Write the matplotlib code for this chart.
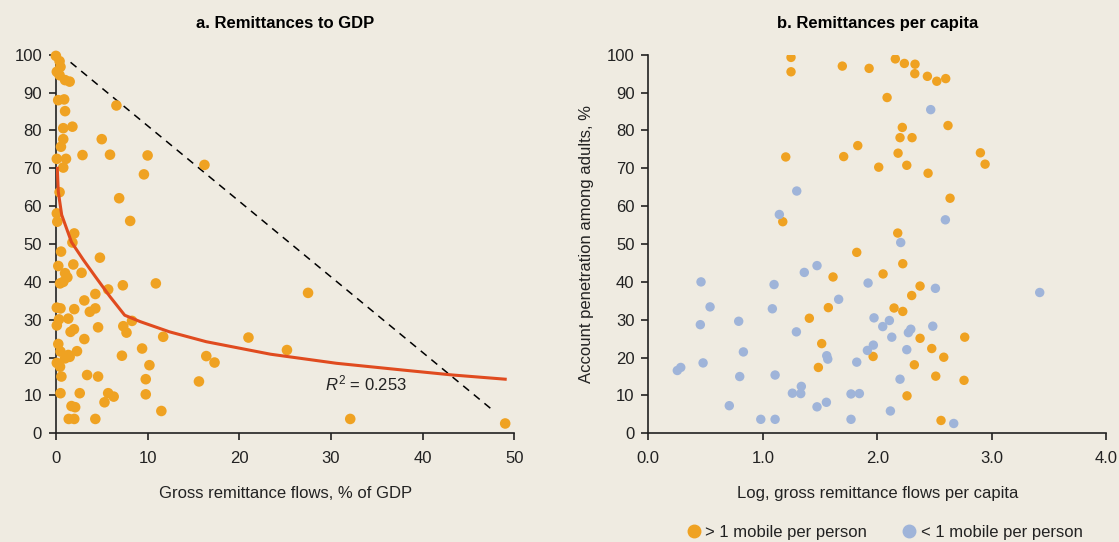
import matplotlib
matplotlib.use("Agg")
import matplotlib.pyplot as plt
from matplotlib.lines import Line2D

plt.rcParams['font.family'] = ['Liberation Sans', 'DejaVu Sans']
plt.rcParams['mathtext.fontset'] = 'custom'
plt.rcParams['mathtext.it'] = 'Liberation Sans:italic'
plt.rcParams['mathtext.rm'] = 'Liberation Sans'

# panel a: remittances, % of GDP vs account penetration
gdp_x = [0.0, 0.4, 0.5, 0.1, 0.4, 1.0, 1.5, 0.25, 0.9, 1.0, 0.8, 1.8, 0.55, 0.8,
         0.1, 1.1, 0.8, 2.9, 5.0, 5.9, 6.6, 10.0, 9.6, 16.2, 0.4, 6.9, 0.1, 0.15,
         8.1, 2.0, 1.8,
         0.56, 4.8, 0.26, 1.9, 1.0, 1.25, 2.8, 0.45, 0.8, 7.3, 10.9, 5.7, 4.3,
         3.1, 0.1, 0.5, 2.0, 3.7, 4.3, 0.34, 1.35, 0.1, 1.6, 1.97, 4.6, 3.1,
         7.35, 7.7, 8.3, 11.7, 0.26, 0.5, 2.3, 1.5, 1.0, 7.2, 9.4, 0.1, 0.45,
         0.6, 3.4, 4.6, 10.2, 9.8, 0.5, 2.6, 5.7, 6.3, 5.3, 9.8, 11.5, 1.7, 2.1,
         1.4, 2.0, 4.3, 15.6, 16.4, 17.3, 21.0, 27.5, 25.2, 32.1, 49.0, 1.35]
gdp_y = [99.7, 98.3, 96.8, 95.5, 94.6, 93.3, 92.9, 88.0, 88.2, 85.1, 80.6, 81.0,
         75.7, 77.7, 72.5, 72.5, 70.2, 73.5, 77.7, 73.6, 86.6, 73.4, 68.4, 70.9,
         63.7, 62.1, 58.1, 55.9, 56.1, 52.8, 50.4,
         48.0, 46.4, 44.2, 44.6, 42.3, 41.2, 42.4, 39.6, 40.0, 39.1, 39.6, 38.0,
         36.8, 35.1, 33.2, 33.0, 32.8, 32.1, 33.0, 30.1, 30.3, 28.5, 26.8, 27.5,
         28.0, 24.9, 28.3, 26.6, 29.7, 25.5, 23.6, 21.6, 21.7, 20.2, 19.8, 20.5,
         22.4, 18.6, 17.6, 15.0, 15.4, 15.0, 18.0, 14.3, 10.6, 10.6, 10.6, 9.7,
         8.2, 10.3, 5.9, 7.2, 6.9, 3.8, 3.8, 3.8, 13.7, 20.4, 18.7, 25.3, 37.1,
         22.0, 3.8, 2.6, 20.7]

# fitted curve and diagonal reference line
fit_x = [0.15, 0.26, 0.63, 1.7, 3.0, 4.3, 5.9, 7.5, 9.2, 12.4, 16.4, 23.4,
         30.6, 37.9, 43.3, 49.0]
fit_y = [70.0, 63.8, 57.7, 50.5, 45.8, 41.4, 36.1, 31.2, 29.5, 26.8, 24.2,
         20.9, 18.5, 16.7, 15.4, 14.3]
diag_x = [1.6, 47.7]
diag_y = [98.0, 6.0]
r2_text = '$R^2$ = 0.253'

# panel b: log remittances per capita, split by mobile subscriptions
hi_x = [1.246, 1.246, 1.20, 1.174, 1.694, 1.928, 2.157, 2.236, 2.329, 2.327,
        2.437, 2.519, 2.597, 2.085, 2.617, 2.218, 2.198, 2.303, 1.829, 1.706,
        2.181, 2.900, 2.941, 2.012, 2.257, 2.443, 2.635, 2.178, 1.820, 2.222,
        1.613, 2.050, 2.373, 2.300, 1.572, 2.146, 2.222, 1.406, 2.373, 2.763,
        1.514, 2.475, 1.963, 2.580, 1.485, 2.323, 2.510, 2.757, 2.259, 2.556]
hi_y = [99.3, 95.5, 73.0, 55.9, 97.0, 96.4, 98.9, 97.7, 97.5, 95.0, 94.3,
        93.0, 93.7, 88.7, 81.3, 80.8, 78.1, 78.1, 76.0, 73.1, 74.0, 74.1, 71.1,
        70.3, 70.8, 68.7, 62.1, 52.9, 47.8, 44.8, 41.3, 42.1, 38.9, 36.4, 33.2,
        33.1, 32.2, 30.4, 25.1, 25.4, 23.7, 22.4, 20.3, 20.1, 17.4, 18.1, 15.1,
        14.0, 9.9, 3.4]
lo_x = [1.296, 1.144, 2.466, 2.594, 2.204, 1.919, 2.507, 3.418, 1.662, 1.971,
        2.105, 2.047, 2.484, 2.292, 2.271, 2.126, 1.965, 1.913, 2.257, 1.820,
        2.198, 1.770, 1.843, 2.114, 1.770, 2.667, 0.460, 1.098, 1.362, 1.473,
        0.539, 1.083, 0.454, 0.789, 1.293, 0.830, 1.558, 1.567, 0.253, 0.283,
        0.478, 0.798, 1.107, 1.336, 1.258, 1.331, 1.555, 1.473, 0.707, 0.982,
        1.107]
lo_y = [64.0, 57.8, 85.5, 56.4, 50.4, 39.7, 38.3, 37.2, 35.4, 30.5, 29.8,
        28.2, 28.3, 27.5, 26.6, 25.4, 23.3, 21.9, 22.1, 18.8, 14.3, 10.4, 10.5,
        5.9, 3.7, 2.6, 40.0, 39.3, 42.5, 44.3, 33.4, 32.9, 28.7, 29.6, 26.8,
        21.5, 20.5, 19.6, 16.6, 17.4, 18.6, 15.0, 15.4, 12.4, 10.6, 10.5, 8.2,
        7.0, 7.3, 3.7, 3.7]

x_ticks_a = [0, 10, 20, 30, 40, 50]
x_ticks_b = [0.0, 1.0, 2.0, 3.0, 4.0]
y_ticks = [0, 10, 20, 30, 40, 50, 60, 70, 80, 90, 100]

BG = '#efebe1'
ORANGE = '#efa222'
BLUE = '#9fb4d9'
RED = '#e04b1f'
INK = '#222222'
FS = 12


def style_axes(ax):
    ax.set_facecolor(BG)
    for side in ('top', 'right'):
        ax.spines[side].set_visible(False)
    for side in ('left', 'bottom'):
        ax.spines[side].set_linewidth(1.2)
        ax.spines[side].set_color(INK)
    ax.tick_params(axis='both', direction='out', length=5, width=1.2,
                   colors=INK, labelsize=FS)
    ax.tick_params(axis='x', pad=8)
    ax.tick_params(axis='y', pad=5)
    ax.set_ylim(0, 100)
    ax.set_yticks(y_ticks)


fig = plt.figure(figsize=(11.19, 5.42), dpi=100, facecolor=BG)

ax_a = fig.add_axes([0.04996, 0.2005, 0.4097, 0.6985])
style_axes(ax_a)
ax_a.set_xlim(0, 50)
ax_a.set_xticks(x_ticks_a)
ax_a.plot(diag_x, diag_y, color='black', lw=1.1, ls=(0, (5, 4)), zorder=2)
ax_a.plot(fit_x, fit_y, color=RED, lw=2.2, zorder=4)
ax_a.scatter(gdp_x, gdp_y, s=58, color=ORANGE, edgecolors='none',
             clip_on=False, zorder=3)
ax_a.text(29.4, 13.2, r2_text, fontsize=FS, va='center', ha='left',
          color=INK)
ax_a.set_title('a. Remittances to GDP', fontsize=FS, fontweight='bold',
               pad=19)
ax_a.set_xlabel('Gross remittance flows, % of GDP', fontsize=FS,
                labelpad=14, color=INK)

ax_b = fig.add_axes([0.5794, 0.2005, 0.4093, 0.6985])
style_axes(ax_b)
ax_b.set_xlim(0, 4)
ax_b.set_xticks(x_ticks_b)
ax_b.set_xticklabels([f'{v:.1f}' for v in x_ticks_b])
ax_b.scatter(hi_x, hi_y, s=46, color=ORANGE, edgecolors='none', zorder=3)
ax_b.scatter(lo_x, lo_y, s=46, color=BLUE, edgecolors='none', zorder=3)
ax_b.set_title('b. Remittances per capita', fontsize=FS, fontweight='bold',
               pad=19)
ax_b.set_xlabel('Log, gross remittance flows per capita', fontsize=FS,
                labelpad=14, color=INK)
ax_b.set_ylabel('Account penetration among adults, %', fontsize=FS,
                labelpad=9, color=INK)

handles = [
    Line2D([], [], marker='o', ls='none', color=ORANGE, markersize=9),
    Line2D([], [], marker='o', ls='none', color=BLUE, markersize=9),
]
fig.legend(handles, ['> 1 mobile per person', '< 1 mobile per person'],
           loc='center', bbox_to_anchor=(0.79, 0.018), ncol=2,
           frameon=False, fontsize=FS, handletextpad=0.2,
           columnspacing=2.0, handlelength=1.0, borderpad=0.1,
           labelcolor=INK)

fig.savefig('out.png', dpi=100, facecolor=BG)
